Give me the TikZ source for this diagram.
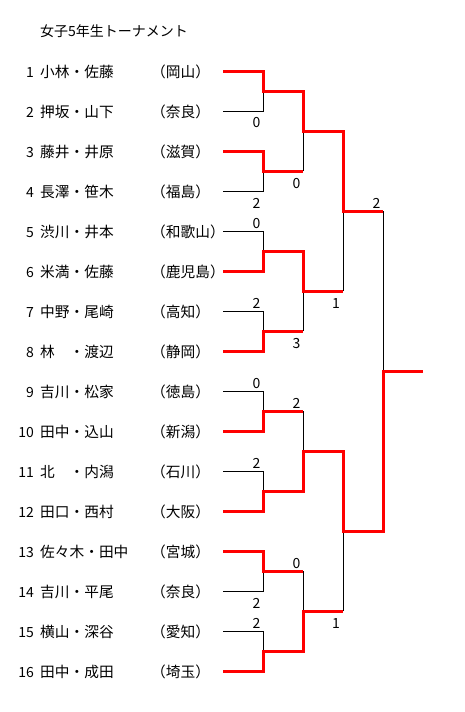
\documentclass[tikz,border=0pt]{standalone}
\usepackage{fontspec}
\setmainfont{Noto Sans CJK JP}
\begin{document}
\begin{tikzpicture}[x=1pt,y=-1pt,
  lbl/.style={inner sep=0pt, font=\fontsize{14}{16}\selectfont},
  namelbl/.style={inner sep=0pt, font=\fontsize{14.7}{16}\selectfont},
  win/.style={draw=red, line width=3pt, line join=miter},
  lose/.style={draw=black, line width=1pt}]
\useasboundingbox (0,0) rectangle (464,712);
% title
\node[lbl, anchor=base west] (title) at (40,36.5) {女子5年生トーナメント};
% entries
\foreach \i/\n/\p in {1/小林・佐藤/岡山, 2/押坂・山下/奈良, 3/藤井・井原/滋賀, 4/長澤・笹木/福島,
  5/渋川・井本/和歌山, 6/米満・佐藤/鹿児島, 7/中野・尾崎/高知, 8/林　・渡辺/静岡,
  9/吉川・松家/徳島, 10/田中・込山/新潟, 11/北　・内潟/石川, 12/田口・西村/大阪,
  13/佐々木・田中/宮城, 14/吉川・平尾/奈良, 15/横山・深谷/愛知, 16/田中・成田/埼玉}{
  \pgfmathsetmacro{\ry}{71+40*(\i-1)}
  \node[lbl, anchor=base east] (num\i) at (34,\ry+6.5) {\i};
  \node[namelbl, anchor=base west] (name\i) at (40,\ry+6.8) {\n};
  \node[namelbl, anchor=base west] (pref\i) at (151,\ry+6.8) {（\p）};
  \coordinate (s\i) at (223,\ry);
  \coordinate (t\i) at (263,\ry);
}
% junction coordinates
\foreach \j/\m in {1/91,2/171,3/251,4/331,5/411,6/491,7/571,8/651}{
  \coordinate (J1-\j) at (263,\m); \coordinate (O1-\j) at (303,\m);}
\foreach \j/\m in {1/131,2/291,3/451,4/611}{
  \coordinate (J2-\j) at (303,\m); \coordinate (O2-\j) at (343,\m);}
\foreach \j/\m in {1/211,2/531}{
  \coordinate (J3-\j) at (343,\m); \coordinate (O3-\j) at (383,\m);}
\coordinate (J4-1) at (383,371); \coordinate (O4-1) at (423,371);
% losers (black)
\foreach \j/\l in {1/2,2/4,3/5,4/7,5/9,6/11,7/14,8/15}{
  \draw[lose] (s\l) -- (t\l) -- (J1-\j);}
\foreach \j/\l in {1/2,2/4,3/5,4/7}{
  \draw[lose] (O1-\l) -- (J2-\j);}
\foreach \j/\l in {1/2,2/4}{
  \draw[lose] (O2-\l) -- (J3-\j);}
\draw[lose] (O3-1) -- (J4-1);
% winners (red)
\foreach \j/\w in {1/1,2/3,3/6,4/8,5/10,6/12,7/13,8/16}{
  \draw[win] (s\w) -- (t\w) -- (J1-\j) -- (O1-\j);}
\foreach \j/\w in {1/1,2/3,3/6,4/8}{
  \draw[win] (J1-\w) -- (O1-\w) -- (J2-\j) -- (O2-\j);}
\foreach \j/\w in {1/1,2/3}{
  \draw[win] (J2-\w) -- (O2-\w) -- (J3-\j) -- (O3-\j);}
\draw[win] (J3-2) -- (O3-2) -- (J4-1) -- (O4-1);
% scores
\foreach \k/\x/\y/\s in {1/256.5/127.5/0, 2/256.5/208/2, 3/256.5/228/0, 4/256.5/308/2,
  5/256.5/388/0, 6/256.5/468/2, 7/256.5/608/2, 8/256.5/628/2,
  9/296.5/188/0, 10/296.5/348/3, 11/296.5/408/2, 12/296.5/568/0,
  13/336/308/1, 14/336/628/1, 15/376.5/208/2}{
  \node[lbl, anchor=base] (sc\k) at (\x,\y) {\s};}
\end{tikzpicture}
\end{document}
